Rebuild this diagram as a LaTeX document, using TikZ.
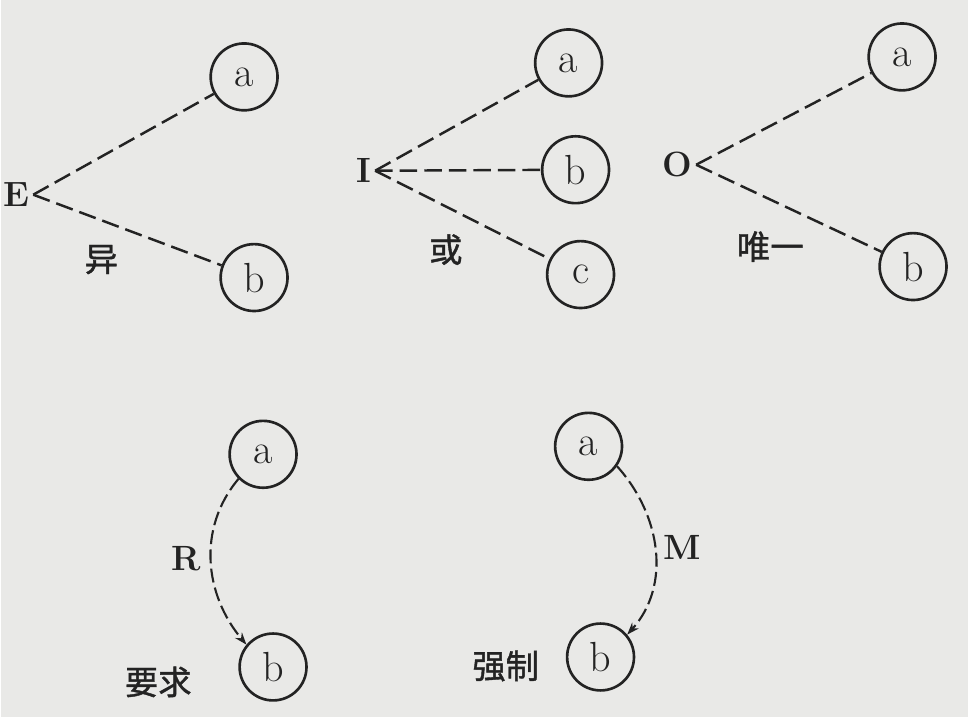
\documentclass[tikz,border=0pt]{standalone}
\usepackage{fontspec}
\newfontfamily\cjk[FakeBold=1.2]{Noto Sans CJK SC}
\usetikzlibrary{arrows.meta}
\definecolor{paper}{RGB}{233,233,231}
\definecolor{ink}{RGB}{35,35,35}
\begin{document}
\begin{tikzpicture}[x=0.02cm,y=0.02cm,
  ball/.style={circle,draw=ink,line width=1.5pt,minimum size=1.34cm,inner sep=0pt,
    text=ink,font=\fontsize{24}{24}\selectfont},
  link/.style={ink,line width=1.4pt,dash pattern=on 10pt off 4pt},
  pull/.style={ink,line width=1.2pt,dash pattern=on 8pt off 3pt,
    -{Stealth[length=7pt,width=5pt]}},
  letter/.style={inner sep=2pt,text=ink,font=\fontsize{20}{20}\selectfont\bfseries},
  word/.style={text=ink,font=\fontsize{19}{19}\selectfont\cjk}]
  \fill[paper] (0,0) rectangle (968,718);
  \node[letter] (E) at (15,523) {E};
  \node[ball] (Ea) at (243,641) {a};
  \node[ball] (Eb) at (253,440) {b};
  \node[word] (Ew) at (100,458) {异};
  \draw[link] (E.east) -- (Ea);
  \draw[link] (E.east) -- (Eb);
  \node[letter] (I) at (363,547) {I};
  \node[ball] (Ia) at (568,655) {a};
  \node[ball] (Ib) at (575,548) {b};
  \node[ball] (Ic) at (580,443) {c};
  \node[word] (Iw) at (445,468) {或};
  \draw[link] (I.east) -- (Ia);
  \draw[link] (I.east) -- (Ib);
  \draw[link] (I.east) -- (Ic);
  \node[letter] (O) at (677,553) {O};
  \node[ball] (Oa) at (902,661) {a};
  \node[ball] (Ob) at (913,451) {b};
  \node[word] (Ow) at (770,471) {唯一};
  \draw[link] (O.east) -- (Oa);
  \draw[link] (O.east) -- (Ob);
  \node[ball] (Ra) at (262,263) {a};
  \node[ball] (Rb) at (272,50) {b};
  \node[letter] (R) at (185,158) {R};
  \node[word] (Rw) at (157,35) {要求};
  \draw[pull] (Ra.225) to[out=230,in=130] (Rb.140);
  \node[ball] (Ma) at (588,271) {a};
  \node[ball] (Mb) at (600,60) {b};
  \node[letter] (M) at (682,170) {M};
  \node[word] (Mw) at (505,51) {强制};
  \draw[pull] (Ma.-35) to[out=-48,in=48] (Mb.40);
\end{tikzpicture}
\end{document}
